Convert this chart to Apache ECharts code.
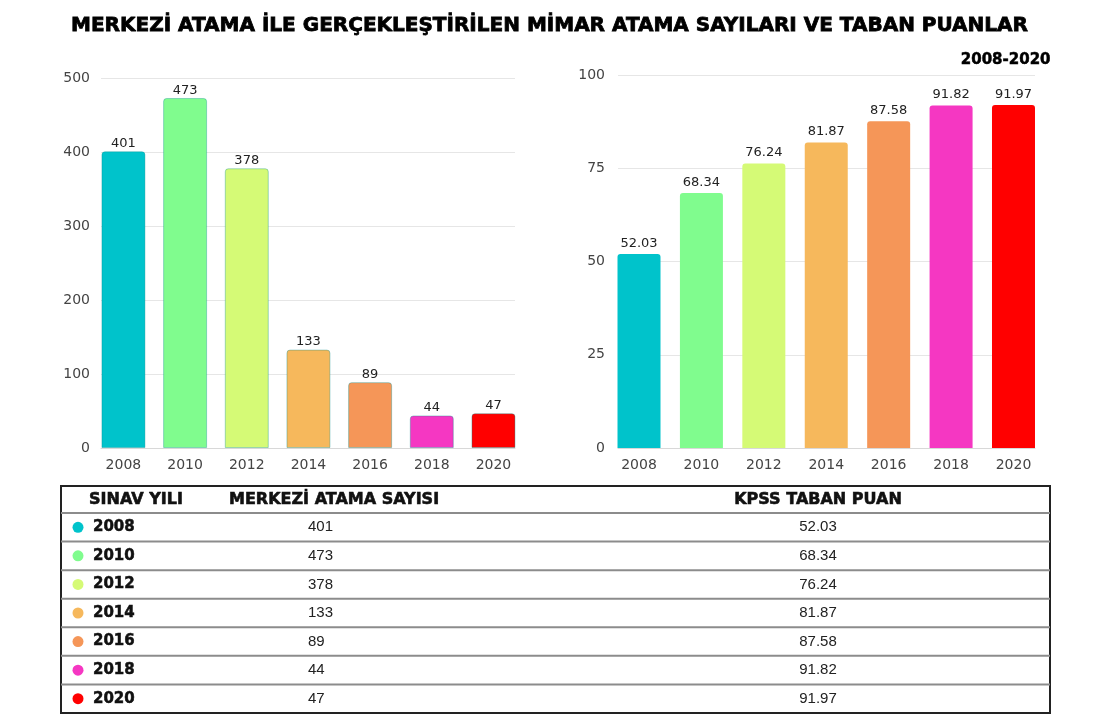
<!DOCTYPE html>
<html><head><meta charset="utf-8">
<script src="https://cdn.jsdelivr.net/npm/echarts@6/dist/echarts.min.js"></script>
<style>html,body{margin:0;padding:0;background:#fff}#c{width:1099px;height:720px}</style>
</head><body><div id="c"></div>
<script>
const years = ['2008','2010','2012','2014','2016','2018','2020'];
const atamaSayisi = [401, 473, 378, 133, 89, 44, 47];
const tabanPuan = [52.03, 68.34, 76.24, 81.87, 87.58, 91.82, 91.97];
const colors = ['#00C3CB','#80FC8E','#D5FA76','#F6B85C','#F59658','#F537C2','#FF0000'];
const leftTicks = {min:0, max:500, interval:100};
const rightTicks = {min:0, max:100, interval:25};
const titleText = 'MERKEZİ ATAMA İLE GERÇEKLEŞTİRİLEN MİMAR ATAMA SAYILARI VE TABAN PUANLAR';
const subText = '2008-2020';
const headers = ['SINAV YILI','MERKEZİ ATAMA SAYISI','KPSS TABAN PUAN'];

const chart = echarts.init(document.getElementById('c'));
const FONT = 'DejaVu Sans';

function barData(vals){ return vals.map((v,i)=>({value:v, itemStyle:{color:colors[i]}})); }

// table graphics
const tTop = 486, tLeft = 61, tRight = 1050, tBottom = 713, headH = 27;
const rowH = (tBottom - (tTop+headH)) / years.length;
const g = [];
g.push({type:'rect', shape:{x:tLeft, y:tTop, width:tRight-tLeft, height:tBottom-tTop}, style:{fill:'none', stroke:'#222', lineWidth:2}});
const heavy = {stroke:'#111', lineWidth:0.6};
for (let i=0;i<years.length;i++){
  const y0 = tTop+headH+i*rowH;
  g.push({type:'line', shape:{x1:tLeft, y1:y0, x2:tRight, y2:y0}, style:{stroke:'#8c8c8c', lineWidth:2}});
  const cy = y0 + rowH/2;
  g.push({type:'circle', shape:{cx:78, cy:cy, r:5.5}, style:{fill:colors[i]}});
  g.push({type:'text', x:93, y:cy, style:Object.assign({text:years[i], font:'bold 15px "DejaVu Sans"', fill:'#111', verticalAlign:'middle', align:'left'}, {stroke:'#111', lineWidth:0.5})});
  g.push({type:'text', x:308, y:cy, style:{text:String(atamaSayisi[i]), font:'15px "Liberation Sans"', fill:'#222', verticalAlign:'middle', align:'left'}});
  g.push({type:'text', x:818, y:cy, style:{text:tabanPuan[i].toFixed(2), font:'15px "Liberation Sans"', fill:'#222', verticalAlign:'middle', align:'center'}});
}
const hy = tTop + headH/2;
const hFont = 'bold 16px "DejaVu Sans"';
g.push({type:'text', x:136, y:hy, style:Object.assign({text:headers[0], font:hFont, fill:'#111', align:'center', verticalAlign:'middle'}, heavy)});
g.push({type:'text', x:229, y:hy, style:Object.assign({text:headers[1], font:hFont, fill:'#111', align:'left', verticalAlign:'middle'}, heavy)});
g.push({type:'text', x:818, y:hy, style:Object.assign({text:headers[2], font:hFont, fill:'#111', align:'center', verticalAlign:'middle'}, heavy)});

const axisLbl = {color:'#444', fontFamily:FONT, fontSize:14};
const valLabel = {show:true, position:'top', distance:1, color:'#222', fontFamily:FONT, fontSize:13};

chart.setOption({
  animation:false,
  title:[
    {text:titleText, left:'center', top:11, textStyle:{fontFamily:FONT, fontWeight:'bold', fontSize:20, color:'#000', textBorderColor:'#000', textBorderWidth:0.8}},
    {text:subText, right:43, top:48, textStyle:{fontFamily:FONT, fontWeight:'bold', fontSize:15, color:'#000', textBorderColor:'#000', textBorderWidth:0.5}}
  ],
  grid:[
    {left:101, width:414, top:78, height:370},
    {left:92.6, width:431.7, top:78, height:370},
    {left:618, width:417, top:75, height:373},
    {left:607.8, width:436.9, top:75, height:373}
  ],
  xAxis:[
    {gridIndex:0, type:'category', data:years, axisLabel:{show:false}, axisTick:{show:false}, axisLine:{lineStyle:{color:'#d8d8d8'}}},
    {gridIndex:1, type:'category', data:years, axisLabel:Object.assign({margin:10}, axisLbl), axisTick:{show:false}, axisLine:{show:false}},
    {gridIndex:2, type:'category', data:years, axisLabel:{show:false}, axisTick:{show:false}, axisLine:{lineStyle:{color:'#d8d8d8'}}},
    {gridIndex:3, type:'category', data:years, axisLabel:Object.assign({margin:10}, axisLbl), axisTick:{show:false}, axisLine:{show:false}}
  ],
  yAxis:[
    {gridIndex:0, type:'value', min:leftTicks.min, max:leftTicks.max, interval:leftTicks.interval, axisLabel:Object.assign({margin:11}, axisLbl), splitLine:{lineStyle:{color:'#e6e6e6'}}, axisLine:{show:false}, axisTick:{show:false}},
    {gridIndex:1, type:'value', min:leftTicks.min, max:leftTicks.max, show:false, splitLine:{show:false}},
    {gridIndex:2, type:'value', min:rightTicks.min, max:rightTicks.max, interval:rightTicks.interval, axisLabel:Object.assign({margin:13}, axisLbl), splitLine:{lineStyle:{color:'#e6e6e6'}}, axisLine:{show:false}, axisTick:{show:false}},
    {gridIndex:3, type:'value', min:rightTicks.min, max:rightTicks.max, show:false, splitLine:{show:false}}
  ],
  series:[
    {type:'bar', xAxisIndex:1, yAxisIndex:1, data:barData(atamaSayisi), barWidth:44, itemStyle:{borderRadius:[3,3,0,0], borderColor:'rgba(0,140,140,0.35)', borderWidth:1}, label:valLabel},
    {type:'bar', xAxisIndex:3, yAxisIndex:3, data:barData(tabanPuan), barWidth:43, itemStyle:{borderRadius:[3,3,0,0]}, label:Object.assign({}, valLabel, {distance:4})}
  ],
  graphic:g
});
</script></body></html>
